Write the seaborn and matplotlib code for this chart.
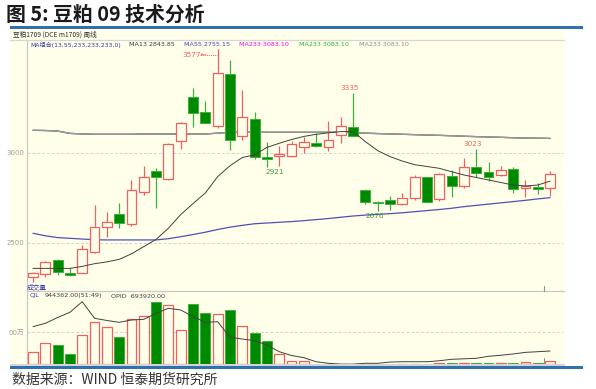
import numpy as np
import pandas as pd
import matplotlib
matplotlib.use("Agg")
import matplotlib.pyplot as plt
import seaborn as sns
from matplotlib.patches import Rectangle
from matplotlib.lines import Line2D

# ---------------- data (weekly candles, 豆粕1709) ----------------
opens = [2310, 2328, 2404, 2332, 2332, 2452, 2587, 2659, 2607, 2785,
         2900, 2857, 3069, 3313, 3228, 3152, 3437, 3094, 3187, 2976,
         2983, 2983, 3031, 3054, 3035, 3100, 3146, 2794, 2726, 2737,
         2715, 2748, 2865, 2743, 2874, 2819, 2924, 2893, 2876, 2911,
         2804, 2813, 2804]
highs = [2341, 2400, 2409, 2363, 2487, 2710, 2674, 2720, 2850, 2928,
         2915, 3057, 3174, 3363, 3289, 3577, 3517, 3350, 3226, 3063,
         3039, 3068, 3087, 3109, 3176, 3198, 3335, 2794, 2735, 2761,
         2776, 2878, 2866, 2890, 2905, 2970, 3023, 2948, 2928, 2920,
         2850, 2831, 2900]
lows = [2285, 2309, 2320, 2317, 2332, 2446, 2532, 2582, 2596, 2767,
        2696, 2850, 3020, 3146, 3165, 3141, 3017, 3072, 2969, 2921,
        2925, 2980, 3002, 3031, 3013, 3054, 3094, 2715, 2676, 2683,
        2712, 2739, 2725, 2735, 2754, 2807, 2869, 2846, 2872, 2780,
        2757, 2770, 2761]
closes = [2332, 2393, 2337, 2322, 2468, 2587, 2615, 2609, 2793, 2865,
          2865, 3048, 3165, 3224, 3168, 3443, 3072, 3198, 2980, 2969,
          2993, 3050, 3059, 3039, 3072, 3150, 3096, 2726, 2720, 2717,
          2748, 2865, 2726, 2882, 2817, 2920, 2891, 2869, 2904, 2802,
          2819, 2802, 2882]
ma13 = [2359, 2359, 2359, 2359, 2370, 2385, 2395, 2409, 2440, 2480,
        2520, 2582, 2658, 2719, 2778, 2869, 2929, 2975, 2990, 3031,
        3054, 3075, 3092, 3104, 3112, 3119, 3119, 3063, 3013, 2980,
        2955, 2935, 2925, 2915, 2896, 2878, 2864, 2850, 2836, 2822,
        2817, 2822, 2844]
ma55 = [2554, 2540, 2530, 2526, 2522, 2518, 2517, 2517, 2517, 2517,
        2517, 2524, 2535, 2547, 2560, 2575, 2588, 2598, 2607, 2611,
        2615, 2619, 2624, 2630, 2636, 2643, 2650, 2655, 2659, 2663,
        2668, 2674, 2680, 2686, 2693, 2702, 2709, 2716, 2723, 2730,
        2737, 2745, 2752]
ma233 = [3126, 3125, 3122, 3109, 3106, 3104, 3104, 3104, 3104, 3105,
         3105, 3105, 3106, 3106, 3106, 3110, 3115, 3115, 3115, 3115,
         3115, 3115, 3115, 3115, 3115, 3115, 3115, 3110, 3108, 3106,
         3104, 3102, 3100, 3098, 3096, 3093, 3091, 3089, 3087, 3085,
         3083, 3082, 3081]
# volume in 万手
volume = [390, 660, 598, 319, 907, 1300, 1146, 836, 1393, 1495,
          1920, 1836, 1053, 1858, 1588, 1557, 1681, 1176, 978, 712,
          319, 102, 112, 3, 3, 3, 3, 3, 3, 3,
          3, 3, 3, 25, 25, 25, 50, 25, 25, 50,
          71, 25, 94.4]
oi_line = [1164, 1269, 1449, 1610, 1938, 1424, 1356, 1300, 1372, 1393,
           1579, 1734, 1681, 1474, 1300, 1319, 836, 783, 731, 598,
           390, 272, 204, 80, 31, 5, 5, 31, 31, 70,
           80, 80, 80, 110, 155, 170, 186, 248, 280, 320,
           370, 390, 412]

price_ticks = [2500, 3000]
price_tick_labels = ["2500", "3000"]
vol_ticks = [1000]
vol_tick_labels = ["00万"]

title = "图 5: 豆粕 09 技术分析"
source = "数据来源：WIND 恒泰期货研究所"

# ---------------- style ----------------
sns.set_theme(style="white")
plt.rcParams['font.family'] = ['DejaVu Sans', 'Noto Sans CJK SC']
plt.rcParams['axes.unicode_minus'] = False

W, H = 596, 389
BG = "#FFFFEA"
RED = "#F06060"
GREEN_F = "#008A00"
GREEN_E = "#3CB03C"
GRID = "#D2D2D2"
BLUE = "#2F70B2"


def fx(px):
    return px / W


def fy(py):
    return 1 - py / H


fig = plt.figure(figsize=(W / 100, H / 100), dpi=100, facecolor="white")

# backgrounds / frame strips (figure level)
fig.patches.append(Rectangle((fx(10), fy(364)), (564 - 10) / W, (364 - 29) / H,
                             transform=fig.transFigure, facecolor=BG,
                             edgecolor="none", zorder=-5))
fig.patches.append(Rectangle((fx(10), fy(29)), (583 - 10) / W, 3 / H,
                             transform=fig.transFigure, facecolor=BLUE,
                             edgecolor="none", zorder=5))
fig.patches.append(Rectangle((fx(10), fy(366)), (565 - 10) / W, 2 / H,
                             transform=fig.transFigure, facecolor="#D4D4D4",
                             edgecolor="none", zorder=5))
fig.patches.append(Rectangle((fx(10), fy(369)), (583 - 10) / W, 3 / H,
                             transform=fig.transFigure, facecolor=BLUE,
                             edgecolor="none", zorder=5))
fig.lines.append(Line2D([fx(10), fx(564)], [fy(40), fy(40)],
                        transform=fig.transFigure, color="#D6D6D6", lw=0.9))

idx = np.arange(len(opens))
XL = (-0.487, 43.13)

# ---------------- price panel ----------------
ax = fig.add_axes([fx(27), fy(291), (564 - 27) / W, (291 - 40) / H])
ax.set_facecolor("none")
ax.set_xlim(*XL)
ax.set_ylim(2233.3, 3627.8)
for s in ["top", "right", "bottom"]:
    ax.spines[s].set_visible(False)
ax.spines["left"].set_color("#C8C8C8")
ax.spines["left"].set_linewidth(0.9)
ax.set_xticks([])
ax.set_yticks(price_ticks)
ax.set_yticklabels(price_tick_labels, fontsize=5, color="#A0A0A0")
ax.tick_params(axis="y", length=0, pad=2)
for t in price_ticks:
    ax.axhline(t, color=GRID, lw=0.7, ls=(0, (3, 2)), zorder=0)

# moving averages
sns.lineplot(x=idx, y=ma233, ax=ax, color="#FF00FF", lw=0.9, legend=False, zorder=1)
sns.lineplot(x=idx, y=ma233, ax=ax, color="#30B030", lw=0.9, legend=False, zorder=1)
sns.lineplot(x=idx, y=ma233, ax=ax, color="#9A9A9A", lw=0.9, legend=False, zorder=1)
sns.lineplot(x=idx, y=ma55, ax=ax, color="#5050B8", lw=0.9, legend=False, zorder=1)
sns.lineplot(x=idx, y=ma13, ax=ax, color="#404040", lw=0.7, legend=False, zorder=4)

o = np.array(opens, float)
c = np.array(closes, float)
h = np.array(highs, float)
lo = np.array(lows, float)
up = c >= o
top = np.maximum(o, c)
bot = np.minimum(o, c)
body = np.maximum(top - bot, 3)
bw = 0.8

# wicks
for i in idx:
    if up[i]:
        ax.vlines(i, top[i], h[i], color=RED, lw=0.9, zorder=2)
        ax.vlines(i, lo[i], bot[i], color=RED, lw=0.9, zorder=2)
    else:
        ax.vlines(i, lo[i], h[i], color=GREEN_E, lw=0.9, zorder=2)
ax.bar(idx[up], body[up], bottom=bot[up], width=bw, facecolor=BG,
       edgecolor=RED, linewidth=0.9, zorder=3)
ax.bar(idx[~up], body[~up], bottom=bot[~up], width=bw, facecolor=GREEN_F,
       edgecolor=GREEN_E, linewidth=0.7, zorder=3)

# high / low marks
lab_fs = 5.2
i_hi = 15
ax.text(i_hi - 2.85, 3545, "3577←", color=RED, fontsize=lab_fs, va="center",
        ha="left", zorder=6)
ax.plot([i_hi - 1.45, i_hi - 0.05], [3545, 3545], color=RED, lw=0.6,
        ls=(0, (1.5, 1)), zorder=6)
for i, txt in [(26, "3335"), (36, "3023")]:
    ax.annotate(txt, (i - 0.25, highs[i]), xytext=(0, 1.5),
                textcoords="offset points", ha="center", va="bottom",
                fontsize=lab_fs, color=RED, zorder=6)
for i, txt, dx in [(19, "2921", 0.6), (28, "2676", -0.25)]:
    ax.annotate(txt, (i + dx, lows[i]), xytext=(0, -1.5),
                textcoords="offset points", ha="center", va="top",
                fontsize=lab_fs, color="#3C9C3C", zorder=6)

# ---------------- volume panel ----------------
vx = fig.add_axes([fx(27), fy(364.3), (564 - 27) / W, (364.3 - 291) / H])
vx.set_facecolor("none")
vx.set_xlim(*XL)
vx.set_ylim(0, 2269)
for s in ["right", "bottom"]:
    vx.spines[s].set_visible(False)
vx.spines["left"].set_color("#C8C8C8")
vx.spines["top"].set_color("#C8C8C8")
vx.spines["left"].set_linewidth(0.9)
vx.spines["top"].set_linewidth(0.9)
vx.set_xticks([])
vx.set_yticks(vol_ticks)
vx.set_yticklabels(vol_tick_labels, fontsize=5, color="#A0A0A0")
vx.tick_params(axis="y", length=0, pad=2)
for t in vol_ticks:
    vx.axhline(t, color=GRID, lw=0.7, ls=(0, (3, 2)), zorder=0)
v = np.array(volume, float)
vx.bar(idx[up], v[up], width=bw, facecolor=BG, edgecolor=RED,
       linewidth=0.9, zorder=3)
vx.bar(idx[~up], v[~up], width=bw, facecolor=GREEN_F, edgecolor=GREEN_E,
       linewidth=0.7, zorder=3)
sns.lineplot(x=idx, y=oi_line, ax=vx, color="#404040", lw=0.7,
             legend=False, zorder=4)

# small cursor marks
for y0, y1 in [(286, 291), (358, 364)]:
    fig.lines.append(Line2D([fx(544), fx(544)], [fy(y0), fy(y1)],
                            transform=fig.transFigure, color="#909090", lw=0.8))

# ---------------- texts ----------------
fig.text(fx(6), fy(14), title, fontsize=14.3, fontweight="bold",
         family=["Noto Sans CJK SC", "DejaVu Sans"], color="#1A1A1A",
         va="center", ha="left")
fig.text(fx(13), fy(34.5), "豆粕1709 (DCE m1709) 周线", fontsize=4.8,
         family=["Noto Sans CJK SC", "DejaVu Sans"], color="#303030",
         va="center", ha="left")
hdr_y = fy(45)
hdr_fs = 4.6
fig.text(fx(30), hdr_y, "MA组合(13,55,233,233,233,0)", fontsize=4.4,
         color="#3838A8", va="center", ha="left")
fig.text(fx(129), hdr_y, "MA13 2843.85", fontsize=hdr_fs, color="#404040",
         va="center", ha="left")
fig.text(fx(184), hdr_y, "MA55 2755.15", fontsize=hdr_fs, color="#4545C0",
         va="center", ha="left")
fig.text(fx(239), hdr_y, "MA233 3083.10", fontsize=hdr_fs, color="#FF00FF",
         va="center", ha="left")
fig.text(fx(299), hdr_y, "MA233 3083.10", fontsize=hdr_fs, color="#30B030",
         va="center", ha="left")
fig.text(fx(359), hdr_y, "MA233 3083.10", fontsize=hdr_fs, color="#909090",
         va="center", ha="left")

fig.text(fx(27), fy(287), "成交量", fontsize=4.8,
         family=["Noto Sans CJK SC", "DejaVu Sans"], color="#3838A8",
         va="center", ha="left")
fig.text(fx(30), fy(296), "CJL", fontsize=hdr_fs, color="#3838A8",
         va="center", ha="left")
fig.text(fx(45), fy(296), "944362.00(51:49)", fontsize=hdr_fs, color="#404040",
         va="center", ha="left")
fig.text(fx(111), fy(296), "OPID  693920.00", fontsize=hdr_fs, color="#404040",
         va="center", ha="left")

fig.text(fx(12), fy(380), source, fontsize=10,
         family=["Noto Sans CJK SC", "DejaVu Sans"], color="#333333",
         va="center", ha="left")

fig.savefig("out.png", dpi=100, facecolor="white")
